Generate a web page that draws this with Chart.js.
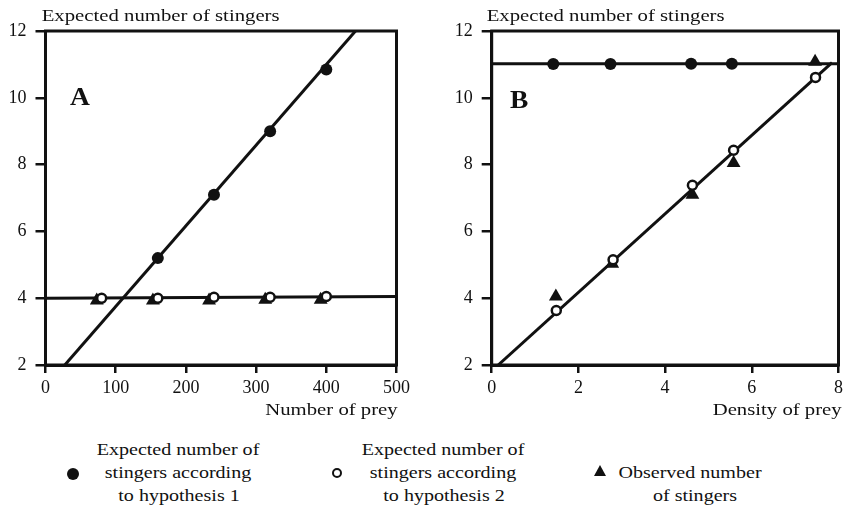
<!DOCTYPE html>
<html>
<head>
<meta charset="utf-8">
<script src="https://cdn.jsdelivr.net/npm/chart.js@4.4.1/dist/chart.umd.min.js"></script>
<style>
  body { margin: 0; background: #fff; width: 847px; height: 508px; overflow: hidden; position: relative;
         font-family: "Liberation Serif", "Times New Roman", serif; color: #111; }
  .panel { position: absolute; top: 0; height: 430px; }
  .lg { position: absolute; font-size: 17px; line-height: 23px; white-space: nowrap;
        transform: translateX(-50%) scaleX(1.18); }
  .dot { position: absolute; width: 12px; height: 12px; border-radius: 50%; background: #111; }
  .ring { position: absolute; width: 6px; height: 6px; border-radius: 50%; border: 2.5px solid #111; background: #fff; }
  .tri { position: absolute; width: 0; height: 0; border-left: 6px solid transparent;
         border-right: 6px solid transparent; border-bottom: 11px solid #111; }
</style>
</head>
<body>
<div class="panel" style="left:0;width:420px"><canvas id="chartA"></canvas></div>
<div class="panel" style="left:430px;width:417px"><canvas id="chartB"></canvas></div>

<div class="dot" style="left:67px;top:468px"></div>
<div class="lg" style="left:178px;top:438px">Expected number of</div>
<div class="lg" style="left:178px;top:461px">stingers according</div>
<div class="lg" style="left:179px;top:484px">to hypothesis 1</div>

<div class="ring" style="left:332px;top:468px"></div>
<div class="lg" style="left:443px;top:438px">Expected number of</div>
<div class="lg" style="left:443px;top:461px">stingers according</div>
<div class="lg" style="left:444px;top:484px">to hypothesis 2</div>

<div class="tri" style="left:594px;top:465px"></div>
<div class="lg" style="left:690px;top:461px">Observed number</div>
<div class="lg" style="left:695px;top:484px">of stingers</div>

<script>
const ink = '#111';

// Panel A: number of prey
const xTicksA = [0, 100, 200, 300, 400, 500];
const preyH1 = [160, 240, 320, 400];
const expH1A = [5.2, 7.1, 9.0, 10.85];
const preyH2 = [80, 160, 240, 320, 400];
const expH2A = [4.0, 4.0, 4.03, 4.03, 4.05];
const preyObs = [73, 153, 233, 313, 392];
const obsA = [3.93, 3.93, 3.93, 3.95, 3.95];
const fitH1A_x = [27.5, 441.6], fitH1A_y = [2, 12];
const fitH2A_x = [0, 500], fitH2A_y = [4.0, 4.05];

// Panel B: density of prey
const xTicksB = [0, 2, 4, 6, 8];
const densH1 = [1.42, 2.74, 4.6, 5.54];
const expH1B = [11.01, 11.01, 11.02, 11.02];
const densH2 = [1.49, 2.8, 4.63, 5.58, 7.47];
const expH2B = [3.63, 5.15, 7.38, 8.43, 10.61];
const densObs = [1.48, 2.78, 4.63, 5.58, 7.46];
const obsB = [4.05, 5.03, 7.1, 8.05, 11.08];
const fitH1B_x = [0, 8], fitH1B_y = [11.02, 11.02];
const fitH2B_x = [0.15, 7.85], fitH2B_y = [2, 11.05];

const yTicks = [2, 4, 6, 8, 10, 12];

const pts = (xs, ys) => xs.map((x, i) => ({ x: x, y: ys[i] }));

function drawText(ctx, s, x, y, font, align, sx) {
  ctx.save();
  ctx.font = font;
  ctx.textAlign = align;
  ctx.textBaseline = 'alphabetic';
  ctx.translate(x, y);
  ctx.scale(sx, 1);
  ctx.fillText(s, 0, 0);
  ctx.restore();
}

const frame = {
  id: 'frame',
  afterDraw(chart, args, o) {
    const { ctx, chartArea: a } = chart;
    ctx.save();
    ctx.strokeStyle = ink;
    ctx.lineWidth = 3;
    ctx.strokeRect(a.left, a.top, a.right - a.left, a.bottom - a.top);
    ctx.fillStyle = ink;
    drawText(ctx, 'Expected number of stingers', o.titleX, 20.5, '17px "Liberation Serif"', 'left', 1.22);
    drawText(ctx, o.xTitle, o.xTitleX, 415, '17px "Liberation Serif"', 'right', 1.22);
    drawText(ctx, o.letter, o.letterX, o.letterY, 'bold 25px "Liberation Serif"', 'left', 1.1);
    ctx.restore();
  }
};

function makeChart(id, cfg) {
  const tickFont = { family: 'Liberation Serif', size: 18 };
  return new Chart(document.getElementById(id), {
    type: 'scatter',
    data: {
      datasets: [
        { data: cfg.h2, order: 1, pointRadius: 4.5, pointBackgroundColor: '#fff',
          pointBorderColor: ink, pointBorderWidth: 2.5 },
        { data: cfg.obs, order: 2, pointStyle: 'triangle', pointRadius: 8,
          pointBackgroundColor: ink, pointBorderColor: ink, pointBorderWidth: 0 },
        { data: cfg.h1, order: 3, pointRadius: 6, pointBackgroundColor: ink,
          pointBorderColor: ink, pointBorderWidth: 0 },
        { data: cfg.fit1, order: 4, showLine: true, pointRadius: 0, borderColor: ink, borderWidth: 3 },
        { data: cfg.fit2, order: 5, showLine: true, pointRadius: 0, borderColor: ink, borderWidth: 3 }
      ]
    },
    options: {
      responsive: true,
      maintainAspectRatio: false,
      animation: false,
      layout: { padding: { left: 0, top: 31, right: cfg.padRight, bottom: 0 } },
      plugins: {
        legend: { display: false },
        tooltip: { enabled: false },
        frame: cfg.frame
      },
      scales: {
        x: {
          type: 'linear', min: cfg.xTicks[0], max: cfg.xTicks[cfg.xTicks.length - 1],
          afterBuildTicks: s => { s.ticks = cfg.xTicks.map(v => ({ value: v })); },
          afterFit: s => { s.height = 65; },
          ticks: { color: ink, font: tickFont, padding: 4, autoSkip: false, maxRotation: 0 },
          grid: { drawOnChartArea: false, drawTicks: true, tickLength: 8, color: ink, lineWidth: 2.5 },
          border: { display: true, color: ink, width: 3 }
        },
        y: {
          type: 'linear', min: 2, max: 12,
          afterBuildTicks: s => { s.ticks = yTicks.map(v => ({ value: v })); },
          afterFit: s => { s.width = cfg.yWidth; },
          ticks: { color: ink, font: tickFont, padding: 9 },
          grid: { drawOnChartArea: false, drawTicks: true, tickLength: 10, color: ink, lineWidth: 2.5 },
          border: { display: true, color: ink, width: 3 }
        }
      }
    },
    plugins: [frame]
  });
}

makeChart('chartA', {
  h1: pts(preyH1, expH1A), h2: pts(preyH2, expH2A), obs: pts(preyObs, obsA),
  fit1: pts(fitH1A_x, fitH1A_y), fit2: pts(fitH2A_x, fitH2A_y),
  xTicks: xTicksA, yWidth: 45.5, padRight: 23.5,
  frame: { titleX: 41.7, xTitle: 'Number of prey', xTitleX: 397.7, letter: 'A', letterX: 70, letterY: 105 }
});

makeChart('chartB', {
  h1: pts(densH1, expH1B), h2: pts(densH2, expH2B), obs: pts(densObs, obsB),
  fit1: pts(fitH1B_x, fitH1B_y), fit2: pts(fitH2B_x, fitH2B_y),
  xTicks: xTicksB, yWidth: 61.7, padRight: 7,
  frame: { titleX: 56.7, xTitle: 'Density of prey', xTitleX: 411.7, letter: 'B', letterX: 80, letterY: 108 }
});
</script>
</body>
</html>
